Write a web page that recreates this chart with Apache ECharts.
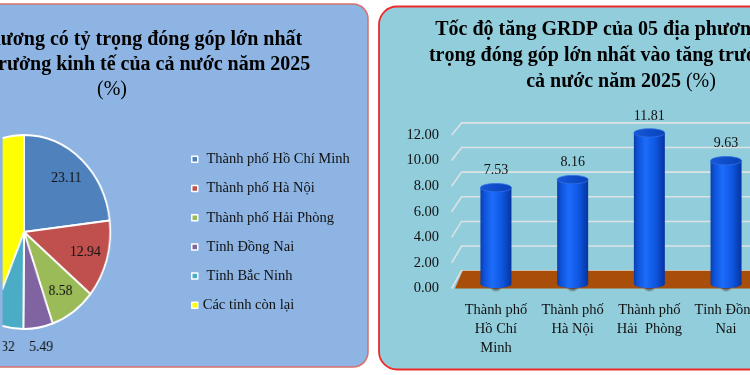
<!DOCTYPE html>
<html>
<head>
<meta charset="utf-8">
<script src="https://cdn.jsdelivr.net/npm/echarts@6/dist/echarts.min.js"></script>
<style>
html,body{margin:0;padding:0;background:#fff;}
#wrap{position:relative;width:750px;height:375px;overflow:hidden;}
#c{position:absolute;left:0;top:0;width:750px;height:375px;}
#p{position:absolute;left:0;top:0;width:750px;height:375px;transform:scaleX(0.89);transform-origin:24px 232px;}
</style>
</head>
<body>
<div id="wrap"><div id="c"></div><div id="p"></div></div>
<script>
// ---- data ----
const pieNames = ['Thành phố Hồ Chí Minh', 'Thành phố Hà Nội', 'Thành phố Hải Phòng', 'Tỉnh Đồng Nai', 'Tỉnh Bắc Ninh', 'Các tỉnh còn lại'];
const pieValues = [23.11, 12.94, 8.58, 5.49, 6.32, 43.56];
const barCategories = ['Thành phố Hồ Chí Minh', 'Thành phố Hà Nội', 'Thành phố Hải Phòng', 'Tỉnh Đồng Nai', 'Tỉnh Bắc Ninh'];
const barTickLabels = ['Thành phố\nHồ Chí\nMinh', 'Thành phố\nHà Nội', 'Thành phố\nHải  Phòng', 'Tỉnh Đồng\nNai', 'Tỉnh Bắc\nNinh'];
const barValues = [7.53, 8.16, 11.81, 9.63, 11.33];
const yTicks = [0, 2, 4, 6, 8, 10, 12];
const leftTitleLines = ['05 địa phương có tỷ trọng đóng góp lớn nhất', 'vào tăng trưởng kinh tế của cả nước năm 2025', '(%)'];
const rightTitleLines = ['Tốc độ tăng GRDP của 05 địa phương có tỷ', 'trọng đóng góp lớn nhất vào tăng trưởng của', 'cả nước năm 2025 ', '(%)'];

// ---- styles ----
const SERIF = "'Liberation Serif', 'Times New Roman', serif";
const pieColors = ['#4F81BD', '#C0504D', '#9BBB59', '#8064A2', '#4BACC6', '#FFFF00'];
const PIE_C = [24, 232], PIE_R = 97;

const chart = echarts.init(document.getElementById('c'), null, {renderer: 'canvas'});
const pieChart = echarts.init(document.getElementById('p'), null, {renderer: 'canvas'});

const richTitle = (size, lh) => ({
  b: {fontFamily: SERIF, fontWeight: 'bold', fontSize: size, lineHeight: lh, color: '#000'},
  n: {fontFamily: SERIF, fontWeight: 'normal', fontSize: size, lineHeight: lh, color: '#000'}
});

const pieItems = () => pieNames.map((n, i) => ({name: n, value: pieValues[i], itemStyle: {color: pieColors[i]}}));

const transparentPie = (radius, showFn) => ({
  type: 'pie', center: PIE_C, radius: radius, startAngle: 90, clockwise: true,
  silent: true, avoidLabelOverlap: false, animation: false,
  itemStyle: {color: 'rgba(0,0,0,0)', borderWidth: 0},
  labelLine: {show: false},
  emphasis: {disabled: true},
  label: {position: 'inside', fontFamily: SERIF, fontSize: 15.5, color: '#111',
          formatter: p => p.value.toFixed(2)},
  data: pieNames.map((n, i) => ({name: n, value: pieValues[i], label: {show: showFn(pieValues[i], i)}}))
});

const barBlue = () => new echarts.graphic.LinearGradient(0, 0, 1, 0, [
  {offset: 0, color: '#0A3CA8'}, {offset: 0.12, color: '#0D52D8'}, {offset: 0.38, color: '#1D6CFA'},
  {offset: 0.7, color: '#0E56E0'}, {offset: 1, color: '#0634A0'}
]);

// pie drawn in an overlay that is squeezed horizontally (the reference pie is slightly elliptical)
pieChart.setOption({
  animation: false,
  series: [
    {
      type: 'pie', center: PIE_C, radius: PIE_R, startAngle: 90, clockwise: true,
      silent: true, label: {show: false}, labelLine: {show: false},
      itemStyle: {borderColor: '#ffffff', borderWidth: 2},
      data: pieItems()
    },
    transparentPie([PIE_R * 0.42, PIE_R], v => v >= 7),
    transparentPie([PIE_R, PIE_R * 1.35], v => v < 7)
  ]
});

const option = {
  animation: false,
  backgroundColor: '#ffffff',
  graphic: [
    {type: 'rect', z: -10, silent: true, shape: {x: -20, y: 4, width: 388, height: 363, r: 15},
     style: {fill: '#8DB4E2', stroke: '#D8706C', lineWidth: 1.5}},
    {type: 'rect', z: -10, silent: true, shape: {x: 379, y: 6.5, width: 420, height: 363, r: 18},
     style: {fill: '#92CDDC', stroke: '#EE2A2A', lineWidth: 1.8}}
  ],
  title: [
    {text: '{b|' + leftTitleLines[0] + '}\n{b|' + leftTitleLines[1] + '}\n{n|' + leftTitleLines[2] + '}',
     left: 112, top: 28, textAlign: 'center', padding: 0,
     textStyle: {rich: richTitle(20, 24.5)}},
    {text: '{b|' + rightTitleLines[0] + '}\n{b|' + rightTitleLines[1] + '}\n{b|' + rightTitleLines[2] + '}{n|' + rightTitleLines[3] + '}',
     left: 621, top: 17, textAlign: 'center', padding: 0,
     textStyle: {rich: richTitle(20, 26)}}
  ],
  legend: {
    orient: 'vertical', left: 191, top: 151.3, padding: 0,
    itemWidth: 6, itemHeight: 6, itemGap: 13.2, icon: 'rect', selectedMode: false,
    data: pieNames,
    itemStyle: {borderColor: '#ffffff', borderWidth: 1.5},
    textStyle: {fontFamily: SERIF, fontSize: 14.5, lineHeight: 16, color: '#111'},
    formatter: n => (n === pieNames[pieNames.length - 1] ? n : ' ' + n)
  },
  grid: {left: 457.6, top: 135, width: 383.5, height: 153.5, containLabel: false, outerBoundsMode: 'none'},
  xAxis: {
    type: 'category', data: barCategories,
    axisLine: {show: false}, axisTick: {show: false}, splitLine: {show: false},
    axisLabel: {interval: 0, margin: 12, fontFamily: SERIF, fontSize: 14.5, lineHeight: 19, color: '#111',
                formatter: (v, i) => barTickLabels[i]}
  },
  yAxis: {
    type: 'value', min: 0, max: 12, interval: 2,
    axisLine: {show: false}, axisTick: {show: false}, splitLine: {show: false},
    axisLabel: {margin: 18.6, fontFamily: SERIF, fontSize: 14.5, color: '#111', formatter: v => v.toFixed(2)}
  },
  series: [
    // legend source (same pie data; zero radius here, the visible pie is in the overlay)
    {
      type: 'pie', center: PIE_C, radius: [0, 0], silent: true,
      label: {show: false}, labelLine: {show: false},
      data: pieItems()
    },
    // back-wall gridlines
    {
      type: 'custom', z: 1, silent: true,
      data: yTicks.map(v => [0, v]),
      renderItem: (params, api) => {
        const cs = params.coordSys;
        const zeroY = cs.y + cs.height;
        const yf = api.coord([0, api.value(1)])[1];
        const yb = zeroY - 17.8 - 0.963 * (zeroY - yf);
        return {type: 'polyline', shape: {points: [[cs.x - 6, yf], [cs.x + 4, yb], [cs.x + cs.width + 60, yb]]},
                style: {stroke: '#DCE2E4', lineWidth: 1.6, fill: null}};
      }
    },
    // floor
    {
      type: 'custom', z: 2, silent: true,
      data: [[0, 0]],
      renderItem: (params, api) => {
        const cs = params.coordSys;
        const y0 = api.coord([0, api.value(1)])[1];
        const xr = cs.x + cs.width + 60;
        return {type: 'polygon', shape: {points: [[cs.x - 2.6, y0], [cs.x + 5, y0 - 17.8], [xr, y0 - 17.8], [xr, y0]]},
                style: {fill: '#A84E08'}};
      }
    },
    // cylinder bars
    {
      type: 'custom', z: 3, silent: true,
      data: barValues.map((v, i) => [i, v]),
      renderItem: (params, api) => {
        const c = api.coord([api.value(0), api.value(1)]);
        const c0 = api.coord([api.value(0), 0]);
        const w = api.size([1, 0])[0] * 0.404;
        const rx = w / 2, ry = 4.2, dy = -4.5;
        const top = c[1] + dy, base = c0[1] + dy;
        return {type: 'group', children: [
          {type: 'ellipse', shape: {cx: c[0], cy: base + 1, rx: rx * 1.55, ry: ry * 1.7},
           style: {fill: new echarts.graphic.RadialGradient(0.5, 0.5, 0.5, [
             {offset: 0, color: 'rgba(60,20,0,0.9)'}, {offset: 0.6, color: 'rgba(70,25,0,0.55)'}, {offset: 1, color: 'rgba(80,30,0,0)'}])}},
          {type: 'rect', shape: {x: c[0] - rx, y: top, width: w, height: base - top}, style: {fill: barBlue()}},
          {type: 'ellipse', shape: {cx: c[0], cy: base, rx: rx, ry: ry}, style: {fill: barBlue()}},
          {type: 'ellipse', shape: {cx: c[0], cy: top, rx: rx, ry: ry},
           style: {fill: new echarts.graphic.LinearGradient(0, 0, 1, 0, [
             {offset: 0, color: '#1858D8'}, {offset: 0.5, color: '#0E4CC8'}, {offset: 1, color: '#0A42B8'}]),
             stroke: '#2E6FE8', lineWidth: 0.8}},
          {type: 'text', x: c[0], y: top - 17,
           style: {text: api.value(1).toFixed(2), fontFamily: SERIF, fontSize: 14, fill: '#111',
                   align: 'center', verticalAlign: 'middle'}}
        ]};
      }
    }
  ]
};

chart.setOption(option);
</script>
</body>
</html>
